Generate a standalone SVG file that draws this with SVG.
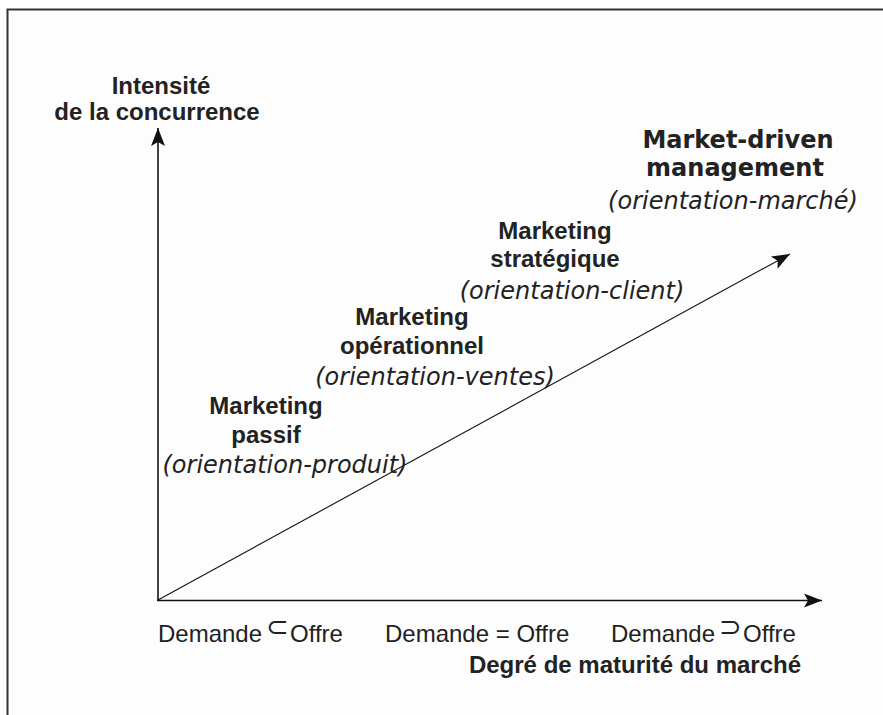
<svg xmlns="http://www.w3.org/2000/svg" width="883" height="715" viewBox="0 0 883 715">
<defs>
<marker id="ah" markerUnits="userSpaceOnUse" markerWidth="20" markerHeight="20" viewBox="0 0 20 20" refX="18" refY="10" orient="auto">
<path d="M0,3 L18,10 L0,17 L4,10 Z" fill="#111"/>
</marker>
<style>
.b{font-family:"Liberation Sans",Arial,sans-serif;font-weight:bold;font-size:24px;fill:#222;text-anchor:middle}
.r{font-family:"Liberation Sans",Arial,sans-serif;font-size:24px;fill:#222}
.d{font-family:"DejaVu Sans",sans-serif;font-weight:bold;font-size:24px;fill:#222;text-anchor:middle}
.i{font-family:"DejaVu Sans",sans-serif;font-style:oblique;font-size:24px;fill:#222;text-anchor:middle}
.s{font-family:"DejaVu Sans",sans-serif;font-size:27px;fill:#222}
.ax{stroke:#111;stroke-width:1.6;fill:none}
.dg{stroke:#111;stroke-width:1.1;fill:none}
</style>
</defs>
<rect x="7.5" y="9.5" width="900" height="720" fill="#fdfdfd" stroke="#333" stroke-width="2"/>
<g id="connectors">
<line class="ax" x1="158" y1="600.5" x2="158" y2="128" marker-end="url(#ah)"/>
<line class="ax" x1="157" y1="600.5" x2="822" y2="600.5" marker-end="url(#ah)"/>
<line class="dg" x1="158" y1="600" x2="790" y2="254" marker-end="url(#ah)"/>
</g>
<g id="y-axis-label">
<text class="b" x="161" y="94">Intensité</text>
<text class="b" x="157" y="120">de la concurrence</text>
</g>
<g id="market-driven">
<text class="d" x="738" y="148">Market-driven</text>
<text class="d" x="735" y="176">management</text>
<text class="i" x="733" y="209">(orientation-marché)</text>
</g>
<g id="marketing-strategique">
<text class="b" x="555" y="239">Marketing</text>
<text class="b" x="555" y="267">stratégique</text>
<text class="i" x="572" y="299">(orientation-client)</text>
</g>
<g id="marketing-operationnel">
<text class="b" x="412" y="325">Marketing</text>
<text class="b" x="412" y="354">opérationnel</text>
<text class="i" x="435" y="385">(orientation-ventes)</text>
</g>
<g id="marketing-passif">
<text class="b" x="266" y="414">Marketing</text>
<text class="b" x="266" y="443">passif</text>
<text class="i" x="285" y="473">(orientation-produit)</text>
</g>
<g id="x-axis-labels">
<text class="r" x="158" y="642">Demande</text>
<text class="s" x="266" y="636">⊂</text>
<text class="r" x="290" y="642">Offre</text>
<text class="r" x="385" y="642">Demande = Offre</text>
<text class="r" x="611" y="642">Demande</text>
<text class="s" x="719" y="636">⊃</text>
<text class="r" x="743" y="642">Offre</text>
<text class="b" x="635" y="673">Degré de maturité du marché</text>
</g>
</svg>
